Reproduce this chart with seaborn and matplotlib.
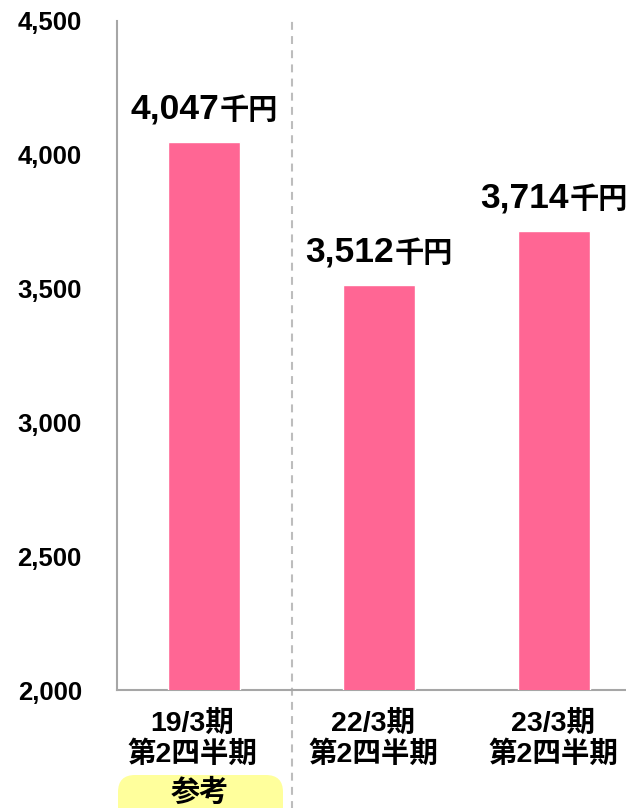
import matplotlib
matplotlib.use("Agg")
import matplotlib.pyplot as plt
import matplotlib.transforms as mtransforms
from matplotlib.offsetbox import TextArea, HPacker, AnnotationBbox
from matplotlib.patches import FancyBboxPatch
import pandas as pd
import seaborn as sns

# Data
periods = ["19/3期\n第2四半期", "22/3期\n第2四半期", "23/3期\n第2四半期"]
values = [4047, 3512, 3714]
unit = "千円"
y_ticks = [2000, 2500, 3000, 3500, 4000, 4500]
reference_tag = "参考"

sns.set_theme(style="white")
FONT = ["Liberation Sans", "Noto Sans CJK JP"]
plt.rcParams["font.family"] = FONT
plt.rcParams["font.weight"] = "bold"
plt.rcParams["text.color"] = "black"

BAR = "#FF6694"
AXIS = "#A6A6A6"
W, H = 626, 808

fig = plt.figure(figsize=(W / 100, H / 100), dpi=100)
ax = fig.add_axes([116.5 / W, 118 / H, 525 / W, 669 / H])

df = pd.DataFrame({"period": periods, "value": values})
sns.barplot(data=df, x="period", y="value", color=BAR, width=0.41,
            saturation=1, ax=ax, zorder=3)

ax.set_xlim(-0.5, 2.5)
ax.set_ylim(y_ticks[0], y_ticks[-1])
ax.set_xlabel("")
ax.set_ylabel("")

# Y axis
ax.set_yticks(y_ticks)
ax.set_yticklabels([f"{v:,}" for v in y_ticks])
ax.tick_params(axis="y", direction="in", length=7, width=1.5, color=AXIS,
               pad=25, labelsize=18.5, labelcolor="black")

# X axis: category labels, small inward ticks at category boundaries
ax.set_xticks(range(len(periods)))
ax.set_xticklabels(periods)
ax.tick_params(axis="x", which="major", length=0, pad=14, labelsize=20.5,
               labelcolor="black")
ax.set_xticks([0.5, 1.5], minor=True)
ax.tick_params(axis="x", which="minor", direction="in", length=7, width=1.5,
               color=AXIS)
label_nudge = [-12, -6, -1]  # horizontal nudge of each category label, px
for lbl, dx in zip(ax.get_xticklabels(), label_nudge):
    lbl.set_linespacing(1.17)
    lbl.set_fontweight("bold")
    lbl.set_transform(lbl.get_transform()
                      + mtransforms.ScaledTranslation(dx / 100, 0,
                                                      fig.dpi_scale_trans))
for lbl in ax.get_yticklabels():
    lbl.set_fontweight("bold")

for side in ("top", "right"):
    ax.spines[side].set_visible(False)
for side in ("left", "bottom"):
    ax.spines[side].set_color(AXIS)
    ax.spines[side].set_linewidth(1.5)

# Dashed separator between the reference period and the current ones
trans = mtransforms.blended_transform_factory(ax.transData, ax.transAxes)
ax.plot([0.5, 0.5], [-0.2, 1.0], transform=trans, color="#BDBDBD", lw=1.5,
        ls=(0, (3.8, 3)), clip_on=False, zorder=1)

# Value labels: number plus smaller unit
for i, v in enumerate(values):
    num = TextArea(f"{v:,}", textprops=dict(size=25.5, weight="bold",
                                            family=FONT, color="black"))
    un = TextArea(unit, textprops=dict(size=21, weight="bold", family=FONT,
                                       color="black"))
    pack = HPacker(children=[num, un], sep=0, pad=0, align="baseline")
    ab = AnnotationBbox(pack, (i, v), xybox=(0, 12), xycoords="data",
                        boxcoords="offset points", box_alignment=(0.5, 0),
                        frameon=False, pad=0)
    ax.add_artist(ab)

# Yellow tag under the reference period
px = mtransforms.Affine2D().scale(1 / W, 1 / H) + fig.transFigure
tag = FancyBboxPatch((118, -20), 165, 53,
                     boxstyle="round,pad=0,rounding_size=17",
                     facecolor="#FFFF9C", edgecolor="none",
                     transform=px, clip_on=False)
fig.add_artist(tag)
fig.text(200, 15, reference_tag, transform=px, ha="center", va="center",
         fontsize=21, fontweight="bold", family=FONT, color="black")

fig.savefig("out.png", dpi=100)
